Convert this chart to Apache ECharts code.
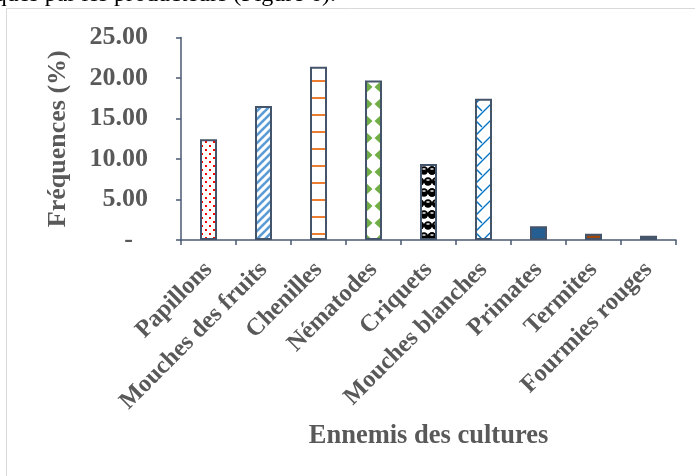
<!DOCTYPE html>
<html><head><meta charset="utf-8">
<script src="https://cdn.jsdelivr.net/npm/echarts@6/dist/echarts.min.js"></script>
<style>html,body{margin:0;padding:0;background:#fff}#c{width:695px;height:476px}</style>
</head><body><div id="c"></div>
<script>
const categories = ['Papillons','Mouches des fruits','Chenilles','Nématodes','Criquets','Mouches blanches','Primates','Termites','Fourmies rouges'];
const frequencies = [12.43, 16.54, 21.4, 19.7, 9.38, 17.45, 1.69, 0.78, 0.53];
const yMin = 0, yMax = 25, yStep = 5;
const yAxisName = 'Fréquences (%)';
const xAxisName = 'Ennemis des cultures';
const headText = 'ques par les producteurs (Figure 6).';

function tile(w, h, draw) {
  const c = document.createElement('canvas');
  c.width = w; c.height = h;
  const g = c.getContext('2d');
  g.fillStyle = '#fff'; g.fillRect(0, 0, w, h);
  draw(g, w, h);
  return { image: c, repeat: 'repeat' };
}
function wrap(w, h, fn) { for (const ox of [-w, 0, w]) for (const oy of [-h, 0, h]) fn(ox, oy); }

const patDots = tile(8, 8, g => { g.fillStyle = '#ff0000'; g.fillRect(1, 1, 2, 2); g.fillRect(5, 5, 2, 2); });
const patDiag = tile(8, 8, g => {
  g.strokeStyle = '#5b9bd5'; g.lineWidth = 2.6;
  for (const o of [-8, 0, 8]) { g.beginPath(); g.moveTo(o - 2, 10); g.lineTo(o + 10, -2); g.stroke(); }
});
const patHoriz = tile(4, 17, g => { g.fillStyle = '#ed7d31'; g.fillRect(0, 12, 4, 2); });
const patDiamond = tile(17, 17, (g, w, h) => {
  g.fillStyle = '#70ad47';
  const cx = 8, cy = 2, dx = 7.5, dy = 7;
  wrap(w, h, (ox, oy) => {
    g.beginPath(); g.moveTo(cx + ox, cy + oy - dy); g.lineTo(cx + ox + dx, cy + oy); g.lineTo(cx + ox, cy + oy + dy); g.lineTo(cx + ox - dx, cy + oy); g.closePath(); g.fill();
  });
});
const patSphere = tile(16, 22, (g, w, h) => {
  const pts = [[4, 5.5], [12, 5.5], [0, 16.5], [8, 16.5], [16, 16.5]];
  wrap(w, h, (ox, oy) => {
    for (const [x, y] of pts) {
      g.fillStyle = '#000';
      g.beginPath(); g.arc(x + ox, y + oy, 4.2, 0, Math.PI * 2); g.fill();
      g.fillStyle = '#fff'; g.fillRect(x + ox - 1.5, y + oy - 2.2, 3, 1.4);
    }
  });
});
const patZig = tile(16, 16, (g, w, h) => {
  g.strokeStyle = '#0070c0'; g.lineWidth = 1.3;
  const vx = 11, vy = 8;
  wrap(w, h, (ox, oy) => {
    g.beginPath(); g.moveTo(vx + ox, vy + oy); g.lineTo(vx + ox + 16, vy + oy - 16); g.stroke();
    g.beginPath(); g.moveTo(vx + ox, vy + oy); g.lineTo(vx + ox + 7, vy + oy + 7); g.stroke();
  });
});
const fills = [patDots, patDiag, patHoriz, patDiamond, patSphere, patZig, '#255e91', '#9e480e', '#636363'];

const font = 'Liberation Serif, Times New Roman, serif';
const txt = '#595959';
const axisCol = '#4a5a70';

const chart = echarts.init(document.getElementById('c'));
chart.setOption({
  animation: false,
  backgroundColor: '#fff',
  graphic: [
    { type: 'rect', shape: { x: 6.5, y: 8.5, width: 720, height: 500 }, style: { fill: 'none', stroke: '#d9d9d9', lineWidth: 1 }, silent: true },
    { type: 'text', x: 336, y: -5, style: { text: headText, font: '24px Liberation Serif', fill: '#000', align: 'right', verticalAlign: 'middle' } }
  ],
  grid: { left: 181, right: 19, top: 37.5, bottom: 236, containLabel: false },
  xAxis: {
    type: 'category', data: categories,
    axisLine: { lineStyle: { color: axisCol, width: 1.5 } },
    axisTick: { show: true, length: 5, lineStyle: { color: axisCol, width: 1.5 } },
    axisLabel: { rotate: 45, margin: 26, padding: [12, 0, 0, 0], interval: 0, color: txt, fontFamily: font, fontWeight: 'bold', fontSize: 24.5 },
    name: xAxisName, nameLocation: 'middle', nameGap: 183, nameMoveOverlap: false,
    nameTextStyle: { color: txt, fontFamily: font, fontWeight: 'bold', fontSize: 26.5 }
  },
  yAxis: {
    type: 'value', min: yMin, max: yMax, interval: yStep,
    splitLine: { show: false },
    axisLine: { show: true, lineStyle: { color: axisCol, width: 1.5 } },
    axisTick: { show: true, length: 5, lineStyle: { color: axisCol, width: 1.5 } },
    axisLabel: {
      margin: 33, color: txt, fontFamily: font, fontWeight: 'bold', fontSize: 26,
      formatter: v => v === 0 ? '{d|-}' : v.toFixed(2),
      rich: { d: { padding: [0, 15, 0, 0], color: txt, fontFamily: font, fontWeight: 'bold', fontSize: 26 } }
    },
    name: yAxisName, nameLocation: 'middle', nameGap: 110, nameMoveOverlap: false,
    nameTextStyle: { color: txt, fontFamily: font, fontWeight: 'bold', fontSize: 26 }
  },
  series: [{
    type: 'bar', barWidth: 17,
    data: frequencies.map((v, i) => ({ value: v, itemStyle: { color: fills[i] } })),
    itemStyle: { borderColor: '#44546a', borderWidth: 2 }
  }]
});
</script></body></html>
